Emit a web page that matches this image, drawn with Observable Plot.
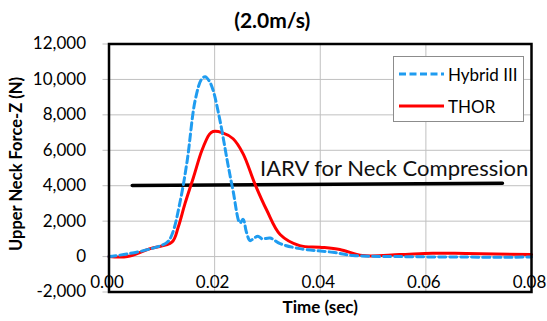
<!DOCTYPE html>
<html><head><meta charset="utf-8">
<script src="https://cdn.jsdelivr.net/npm/d3@7"></script>
<script src="https://cdn.jsdelivr.net/npm/@observablehq/plot@0.6"></script>
<style>
body{margin:0;background:#fff;}
#wrap{position:relative;width:547px;height:321px;font-family:Lato,sans-serif;}
#legend{position:absolute;left:393px;top:56px;width:131px;height:66px;border:1px solid #8c8c8c;background:#fff;box-sizing:border-box;}
#legend .row{position:absolute;left:5px;height:20px;display:flex;align-items:center;}
#legend .row span{font-size:17px;margin-left:4px;color:#000;}
</style></head><body><div id="wrap"></div>
<script>
const chartTitle = "(2.0m/s)";
const xLabel = "Time (sec)";
const yLabel = "Upper Neck Force-Z (N)";
const seriesNames = ["Hybrid III", "THOR"];
const seriesColors = ["#1f9cf0", "#ff0000"];
const xTicks = [0, 0.02, 0.04, 0.06, 0.08];
const yTicks = [-2000, 0, 2000, 4000, 6000, 8000, 10000, 12000];

const hybridT = [0, 0.0035, 0.008, 0.011, 0.012, 0.0135, 0.0148, 0.0163, 0.0175, 0.0182, 0.019, 0.0197, 0.021, 0.0224, 0.0235, 0.0248, 0.0254, 0.026, 0.0267, 0.0273, 0.0282, 0.029, 0.0305, 0.0324, 0.0361, 0.0424, 0.0462, 0.055, 0.0676, 0.08];
const hybridF = [0, 150, 450, 800, 1300, 3150, 5400, 8800, 10000, 10150, 9900, 9400, 7700, 5400, 3700, 1900, 2100, 1400, 900, 1000, 1150, 1000, 1050, 730, 450, 240, 60, 0, -30, -30];

const thorT = [0, 0.0035, 0.0078, 0.0119, 0.0131, 0.0144, 0.016, 0.0176, 0.019, 0.0197, 0.0214, 0.0235, 0.0254, 0.0276, 0.0299, 0.0324, 0.0361, 0.0399, 0.0437, 0.048, 0.055, 0.0613, 0.0676, 0.08];
const thorF = [0, 0, 450, 810, 1650, 3000, 4480, 6000, 6900, 7060, 7000, 6650, 5800, 4120, 2600, 1250, 620, 530, 400, 60, 110, 190, 170, 110];

const iarvT = [0.0044, 0.0745];
const iarvF = [4010, 4140];
const iarvLabel = [{t: 0.0286, f: 4950, label: "IARV for Neck Compression"}];

const fmtY = d => d.toLocaleString("en-US");

const chart = Plot.plot({
  width: 547, height: 321,
  marginLeft: 108.5, marginRight: 16, marginTop: 43.5, marginBottom: 29.5,
  style: {fontFamily: "Lato, sans-serif", fontSize: "17px", background: "white", color: "black"},
  x: {domain: [0, 0.08], axis: null},
  y: {domain: [-2000, 12000]},
  marks: [
    Plot.gridX(xTicks, {stroke: "#c0c0c0", strokeOpacity: 1}),
    Plot.gridY(yTicks, {stroke: "#c0c0c0", strokeOpacity: 1}),
    Plot.axisY(yTicks, {tickSize: 6, tickPadding: 17, tickFormat: fmtY, stroke: "#bfbfbf", fill: "black", fontSize: 17, label: null}),
    Plot.line(iarvF, {x: iarvT, y: iarvF, stroke: "black", strokeWidth: 3.5}),
    Plot.text(iarvLabel, {x: "t", y: "f", text: "label", textAnchor: "start", fontSize: 22, fill: "#111"}),
    Plot.line(thorF, {x: thorT, y: thorF, stroke: seriesColors[1], strokeWidth: 3, curve: "catmull-rom"}),
    Plot.line(hybridF, {x: hybridT, y: hybridF, stroke: seriesColors[0], strokeWidth: 3, strokeDasharray: "7,4", curve: "catmull-rom"}),
    Plot.frame({stroke: "black", strokeWidth: 2.5}),
    Plot.text(xTicks, {x: d => d, text: d => d.toFixed(2), frameAnchor: "bottom", lineAnchor: "middle", dy: -9, dx: -2, fontSize: 17}),
    Plot.text([chartTitle], {frameAnchor: "top", lineAnchor: "middle", textAnchor: "middle", dy: -23, dx: -48, fontWeight: "bold", fontSize: 21}),
    Plot.text([xLabel], {frameAnchor: "bottom", lineAnchor: "middle", textAnchor: "middle", dy: 15.5, fontWeight: "bold", fontSize: 17}),
    Plot.text([yLabel], {frameAnchor: "left", textAnchor: "middle", lineAnchor: "middle", dx: -92, dy: -4, rotate: -90, fontWeight: "bold", fontSize: 16.5})
  ]
});
const wrap = document.getElementById("wrap");
wrap.appendChild(chart);

const legend = document.createElement("div");
legend.id = "legend";
seriesNames.forEach((name, i) => {
  const row = document.createElement("div");
  row.className = "row";
  row.style.top = (i === 0 ? 7 : 39) + "px";
  const dash = i === 0 ? 'stroke-dasharray="7,3.5"' : '';
  row.innerHTML = `<svg width="45" height="6"><line x1="0" x2="45" y1="3" y2="3" stroke="${seriesColors[i]}" stroke-width="3" ${dash}/></svg><span>${name}</span>`;
  legend.appendChild(row);
});
wrap.appendChild(legend);
</script></body></html>
